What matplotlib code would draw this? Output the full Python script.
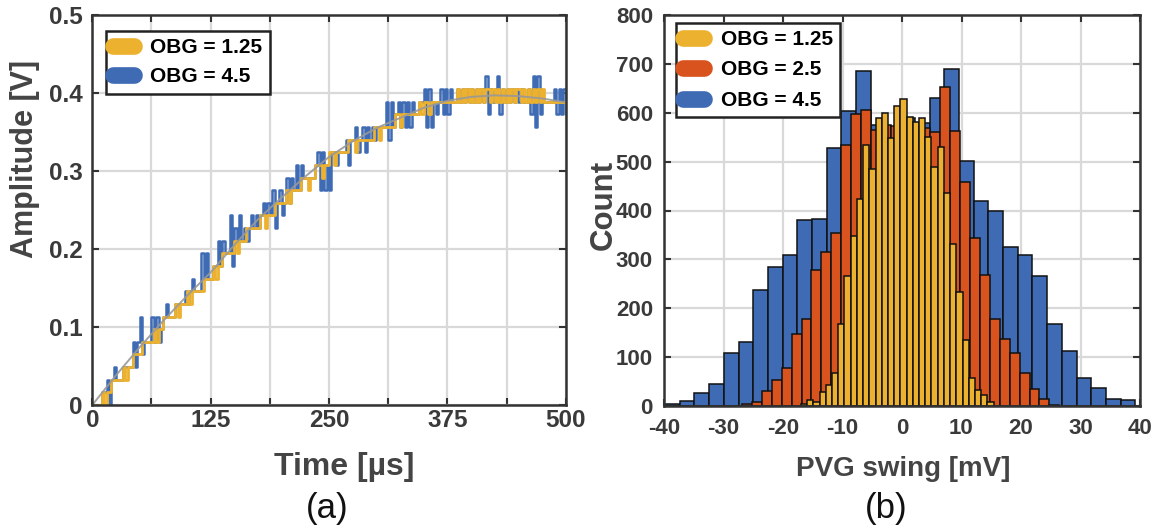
import numpy as np
import matplotlib
matplotlib.use("Agg")
import matplotlib.pyplot as plt
from matplotlib.lines import Line2D

plt.rcParams['font.family'] = ['Liberation Sans', 'DejaVu Sans']
plt.rcParams['font.weight'] = 'bold'
plt.rcParams['axes.unicode_minus'] = False

W, H = 1156, 531

# ---- (a) ADC output codes, sampled every 2.5 us ----
lsb = 0.0162
dt = 2.5
code_obg125 = [
    0, 0, 0, 0, 1, 0, 1, 1, 2, 2,
    2, 2, 2, 3, 2, 3, 3, 4, 4, 4,
    4, 5, 5, 5, 5, 5, 6, 5, 6, 6,
    7, 7, 7, 7, 7, 8, 7, 8, 8, 8,
    9, 8, 9, 9, 9, 9, 9, 10, 10, 10,
    10, 11, 10, 11, 11, 12, 12, 12, 12, 12,
    13, 12, 13, 13, 13, 14, 14, 14, 14, 14,
    14, 15, 15, 14, 15, 15, 15, 16, 16, 16,
    16, 16, 17, 16, 17, 17, 17, 17, 18, 18,
    18, 17, 18, 18, 19, 19, 19, 18, 19, 19,
    20, 20, 19, 20, 20, 20, 20, 20, 21, 21,
    21, 20, 21, 21, 21, 21, 21, 21, 21, 22,
    22, 21, 22, 22, 22, 22, 22, 22, 23, 23,
    22, 23, 23, 23, 23, 23, 23, 23, 24, 23,
    24, 24, 23, 24, 24, 24, 24, 24, 24, 24,
    24, 24, 24, 24, 25, 24, 25, 24, 25, 24,
    25, 24, 25, 24, 25, 24, 25, 25, 24, 25,
    24, 25, 24, 25, 24, 25, 24, 25, 24, 25,
    25, 24, 25, 24, 25, 24, 25, 24, 25, 24,
    25, 24, 24, 24, 24, 24, 24, 24, 24, 24,
    24,
]
code_obg45 = [
    0, 0, 0, 0, 1, 1, 2, 0, 2, 3,
    2, 2, 2, 3, 3, 3, 3, 5, 3, 5,
    7, 4, 5, 5, 5, 7, 5, 7, 5, 6,
    7, 8, 7, 7, 7, 8, 8, 8, 8, 9,
    8, 9, 10, 9, 9, 9, 12, 10, 12, 10,
    10, 11, 11, 13, 11, 13, 12, 12, 15, 11,
    14, 13, 15, 13, 14, 13, 14, 15, 14, 15,
    14, 15, 16, 15, 16, 15, 17, 14, 16, 17,
    15, 16, 18, 16, 18, 17, 19, 17, 19, 18,
    18, 18, 18, 18, 19, 20, 17, 20, 17, 19,
    17, 20, 20, 19, 20, 20, 20, 21, 19, 21,
    21, 22, 20, 21, 22, 20, 22, 21, 22, 21,
    22, 22, 22, 22, 24, 21, 24, 22, 23, 24,
    22, 24, 22, 24, 22, 24, 23, 23, 24, 24,
    25, 22, 25, 22, 24, 23, 24, 25, 23, 25,
    23, 25, 24, 24, 25, 24, 25, 24, 25, 24,
    25, 24, 25, 24, 25, 24, 26, 23, 25, 24,
    25, 26, 23, 25, 24, 25, 24, 25, 24, 25,
    24, 25, 24, 24, 25, 23, 26, 22, 26, 23,
    24, 24, 24, 24, 24, 25, 23, 25, 23, 25,
    23,
]
# ideal (unquantised) response
t_ideal = [0, 25, 50, 75, 100, 125, 150, 175, 200, 225, 250,
           275, 300, 325, 350, 375, 400, 425, 450, 475, 500]
v_ideal = [0.0, 0.038, 0.074, 0.108, 0.140, 0.170, 0.205, 0.238, 0.266, 0.293, 0.318,
           0.338, 0.355, 0.368, 0.381, 0.390, 0.395, 0.397, 0.396, 0.393, 0.388]

# ---- (b) PVG swing histograms (bin start, bin width, counts) ----
hist_start = {'4.5': -39.83, '2.5': -26.88, '1.25': -16.98}
hist_width = {'4.5': 2.4705, '2.5': 1.666, '1.25': 1.0444}
counts_45 = [5, 10, 26, 46, 108, 130, 237, 284, 308, 381, 382, 527, 604, 686, 575, 560,
             590, 580, 631, 689, 501, 420, 398, 325, 309, 266, 168, 113, 57, 36, 14, 12]
counts_25 = [4, 9, 31, 53, 77, 147, 179, 278, 316, 353, 534, 597, 606, 565, 575, 572,
             590, 575, 568, 561, 653, 563, 458, 343, 269, 179, 138, 108, 68, 34, 14, 2]
counts_125 = [5, 12, 8, 29, 43, 68, 167, 267, 348, 423, 535, 484, 589, 599, 548, 614,
              628, 592, 582, 589, 551, 490, 529, 435, 331, 233, 135, 57, 33, 23, 9]

c_yel = '#ECB12E'
c_red = '#D9531E'
c_blu = '#3F6BB4'
tick_col = '#3a3a3a'
lab_col = '#444444'


def fpos(x, y):
    return x / W, 1 - y / H


def style_axes(ax, size, xpad, ypad):
    for s in ax.spines.values():
        s.set_color('#333333')
        s.set_linewidth(1.8)
    ax.tick_params(direction='in', top=True, right=True, length=5, width=1.5,
                   color='#333333', labelsize=size, labelcolor=tick_col)
    ax.tick_params(axis='x', pad=xpad)
    ax.tick_params(axis='y', pad=ypad)
    ax.grid(True, color='#d9d9d9', linewidth=1.6)
    ax.set_axisbelow(True)


def add_legend(ax, handles, labels, x, y, spacing):
    leg = ax.legend(handles, labels, loc='upper left',
                    bbox_to_anchor=fpos(x, y), bbox_transform=fig.transFigure,
                    borderaxespad=0, prop={'weight': 'bold', 'size': 15},
                    fancybox=False, framealpha=1, edgecolor='#222222',
                    handlelength=1.0, handletextpad=0.8, borderpad=0.35,
                    labelspacing=spacing)
    leg.get_frame().set_linewidth(1.8)
    return leg


fig = plt.figure(figsize=(W / 100, H / 100), dpi=100)

# ---------------- (a) ----------------
ax1 = fig.add_axes([92.3 / W, 1 - 405 / H, 473.4 / W, 390 / H])
t = np.arange(len(code_obg45)) * dt
ax1.step(t, np.array(code_obg45) * lsb, where='post', color=c_blu, lw=1.8)
ax1.step(t, np.array(code_obg125) * lsb, where='post', color=c_yel, lw=2.0)
ax1.plot(t_ideal, v_ideal, color='#999999', lw=1.4, alpha=0.9)
ax1.set_xlim(0, 500)
ax1.set_ylim(0, 0.5)
ax1.set_xticks(np.arange(0, 501, 62.5))
ax1.set_xticklabels(['0', '', '125', '', '250', '', '375', '', '500'])
ax1.set_yticks(np.arange(0, 0.51, 0.1))
ax1.set_yticklabels(['0', '0.1', '0.2', '0.3', '0.4', '0.5'])
style_axes(ax1, 17.5, 3, 7)

h1 = [Line2D([], [], color=c_yel, lw=12, solid_capstyle='round'),
      Line2D([], [], color=c_blu, lw=12, solid_capstyle='round')]
add_legend(ax1, h1, ['OBG = 1.25', 'OBG = 4.5'], 105.7, 30.7, 0.5)

fig.text(*fpos(33, 159), 'Amplitude [V]', rotation=90, rotation_mode='anchor',
         ha='center', va='baseline', fontsize=22, color=lab_col)
fig.text(*fpos(344, 475), 'Time [µs]', ha='center', va='baseline', fontsize=23, color=lab_col)
fig.text(*fpos(327.5, 518), '(a)', ha='center', va='baseline', fontsize=25,
         fontweight='normal', family=['Liberation Sans Narrow', 'Liberation Sans'], color='#111111')

# ---------------- (b) ----------------
ax2 = fig.add_axes([664 / W, 1 - 406 / H, 476 / W, 391 / H])
for key, counts, col in [('4.5', counts_45, c_blu), ('2.5', counts_25, c_red),
                         ('1.25', counts_125, c_yel)]:
    left = hist_start[key] + hist_width[key] * np.arange(len(counts))
    ax2.bar(left, counts, width=hist_width[key], align='edge', color=col,
            edgecolor='#111111', linewidth=1.1)
ax2.set_xlim(-40, 40)
ax2.set_ylim(0, 800)
ax2.set_xticks(np.arange(-40, 41, 10))
ax2.set_yticks(np.arange(0, 801, 100))
style_axes(ax2, 16, 9, 8)

h2 = [Line2D([], [], color=c_yel, lw=12, solid_capstyle='round'),
      Line2D([], [], color=c_red, lw=12, solid_capstyle='round'),
      Line2D([], [], color=c_blu, lw=12, solid_capstyle='round')]
add_legend(ax2, h2, ['OBG = 1.25', 'OBG = 2.5', 'OBG = 4.5'], 676, 22.7, 0.55)

fig.text(*fpos(612, 205), 'Count', rotation=90, rotation_mode='anchor',
         ha='center', va='baseline', fontsize=22.5, color=lab_col)
fig.text(*fpos(903.5, 476.5), 'PVG swing [mV]', ha='center', va='baseline', fontsize=20,
         color=lab_col)
fig.text(*fpos(886, 518), '(b)', ha='center', va='baseline', fontsize=25,
         fontweight='normal', family=['Liberation Sans Narrow', 'Liberation Sans'], color='#111111')

fig.savefig('out.png', dpi=100)
